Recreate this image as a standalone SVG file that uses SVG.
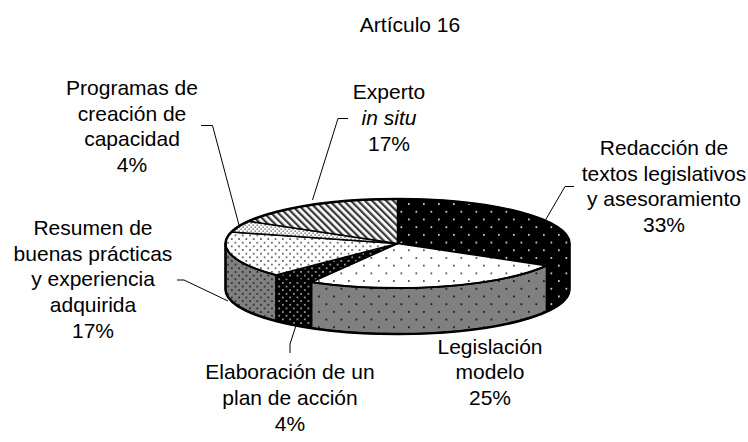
<svg xmlns="http://www.w3.org/2000/svg" width="748" height="442" viewBox="0 0 748 442">
<style>
text{font-family:"Liberation Sans",Arial,sans-serif;font-size:21px;fill:#000;text-anchor:middle}
.sl{stroke:#000;stroke-width:1.5;stroke-linejoin:round}
.ld{fill:none;stroke:#000;stroke-width:1}
.ol{fill:none;stroke:#000;stroke-width:2.5}
</style>
<defs>
<pattern id="pSW" width="15" height="15.4" patternUnits="userSpaceOnUse"><rect width="15" height="15.4" fill="#fff"/><rect x="3" y="3" width="1.7" height="1.7" fill="#444"/><rect x="10.5" y="10.7" width="1.7" height="1.7" fill="#444"/></pattern>
<pattern id="pSB" width="15" height="15.4" patternUnits="userSpaceOnUse"><rect width="15" height="15.4" fill="#000"/><rect x="3" y="3" width="1.7" height="1.7" fill="#ddd"/><rect x="10.5" y="10.7" width="1.7" height="1.7" fill="#ddd"/></pattern>
<pattern id="pSG" width="15" height="15.4" patternUnits="userSpaceOnUse"><rect width="15" height="15.4" fill="#808080"/><rect x="3" y="3" width="1.8" height="1.8" fill="#1a1a1a"/><rect x="10.5" y="10.7" width="1.8" height="1.8" fill="#1a1a1a"/></pattern>
<pattern id="pDW" width="7.3" height="7.3" patternUnits="userSpaceOnUse"><rect width="7.3" height="7.3" fill="#fff"/><rect x="1" y="1" width="1.6" height="1.6" fill="#444"/><rect x="4.65" y="4.65" width="1.6" height="1.6" fill="#444"/></pattern>
<pattern id="pDB" width="7.3" height="7.3" patternUnits="userSpaceOnUse"><rect width="7.3" height="7.3" fill="#000"/><rect x="1" y="1" width="1.6" height="1.6" fill="#bbb"/><rect x="4.65" y="4.65" width="1.6" height="1.6" fill="#bbb"/></pattern>
<pattern id="pDG" width="7.3" height="7.3" patternUnits="userSpaceOnUse"><rect width="7.3" height="7.3" fill="#808080"/><rect x="1" y="1" width="1.7" height="1.7" fill="#262626"/><rect x="4.65" y="4.65" width="1.7" height="1.7" fill="#262626"/></pattern>
<pattern id="pF" width="4" height="4" patternUnits="userSpaceOnUse"><rect width="4" height="4" fill="#fff"/><rect x="0.5" y="0.5" width="1.3" height="1.3" fill="#555"/><rect x="2.5" y="2.5" width="1.3" height="1.3" fill="#555"/></pattern>
<pattern id="pH" width="5" height="5" patternUnits="userSpaceOnUse" patternTransform="rotate(-45)"><rect width="5" height="5" fill="#fff"/><rect x="0" y="0" width="2.3" height="5" fill="#3a3a3a"/></pattern>
</defs>

<g id="title">
<text x="410" y="32">Artículo 16</text>
</g>

<g id="pie-sides">
<path class="sl" fill="url(#pSB)" d="M569.5,243.5 A172,44.5 0 0 1 546.46,265.75 L546.46,311.75 A172,44.5 0 0 0 569.5,289.5 Z"/>
<path class="sl" fill="url(#pSG)" d="M546.46,265.75 A172,44.5 0 0 1 311.5,282.04 L311.5,328.04 A172,44.5 0 0 0 546.46,311.75 Z"/>
<path class="sl" fill="url(#pDB)" d="M311.5,282.04 A172,44.5 0 0 1 275.88,274.97 L275.88,320.97 A172,44.5 0 0 0 311.5,328.04 Z"/>
<path class="sl" fill="url(#pDG)" d="M275.88,274.97 A172,44.5 0 0 1 225.5,243.5 L225.5,289.5 A172,44.5 0 0 0 275.88,320.97 Z"/>
</g>

<g id="slice-redaccion">
<path class="sl" fill="url(#pSB)" d="M397.5,243.5 L397.5,199 A172,44.5 0 0 1 546.46,265.75 Z"/>
<text x="664" y="155">Redacción de</text>
<text x="664" y="180.7">textos legislativos</text>
<text x="664" y="206.4">y asesoramiento</text>
<text x="664" y="232.1">33%</text>
</g>
<g id="slice-legislacion">
<path class="sl" fill="url(#pSW)" d="M397.5,243.5 L546.46,265.75 A172,44.5 0 0 1 311.5,282.04 Z"/>
<text x="490" y="353.7">Legislación</text>
<text x="490" y="379.4">modelo</text>
<text x="490" y="405">25%</text>
</g>
<g id="slice-elaboracion">
<path class="sl" fill="url(#pDB)" d="M397.5,243.5 L311.5,282.04 A172,44.5 0 0 1 275.88,274.97 Z"/>
<text x="290" y="379.4">Elaboración de un</text>
<text x="290" y="405">plan de acción</text>
<text x="290" y="430.8">4%</text>
</g>
<g id="slice-resumen">
<path class="sl" fill="url(#pDW)" d="M397.5,243.5 L275.88,274.97 A172,44.5 0 0 1 231.36,231.98 Z"/>
<text x="93" y="235">Resumen de</text>
<text x="93" y="260.7">buenas prácticas</text>
<text x="93" y="286.4">y experiencia</text>
<text x="93" y="312.1">adquirida</text>
<text x="93" y="337.8">17%</text>
</g>
<g id="slice-programas">
<path class="sl" fill="url(#pF)" d="M397.5,243.5 L231.36,231.98 A172,44.5 0 0 1 248.54,221.25 Z"/>
<text x="132" y="95">Programas de</text>
<text x="132" y="120.7">creación de</text>
<text x="132" y="146.4">capacidad</text>
<text x="132" y="172.1">4%</text>
</g>
<g id="slice-experto">
<path class="sl" fill="url(#pH)" d="M397.5,243.5 L248.54,221.25 A172,44.5 0 0 1 397.5,199 Z"/>
<text x="389" y="99">Experto</text>
<text x="389" y="125" font-style="italic">in situ</text>
<text x="389" y="151">17%</text>
</g>

<g id="pie-outline">
<path class="ol" d="M225.5,243.5 A172,44.5 0 0 1 569.5,243.5 L569.5,289.5 A172,44.5 0 0 1 225.5,289.5 Z"/>
<path fill="none" stroke="#000" stroke-width="2" d="M569.5,243.5 A172,44.5 0 0 1 225.5,243.5"/>
</g>

<g id="connectors">
<polyline class="ld" points="201,125.5 212.5,125.5 239.5,227"/>
<polyline class="ld" points="348,118.5 338,118.5 312.5,200"/>
<polyline class="ld" points="574,186.5 565,186.5 545.5,220"/>
<polyline class="ld" points="177,280 184,280 228,301"/>
<polyline class="ld" points="296,325.5 290,344 290,353"/>
</g>
</svg>
